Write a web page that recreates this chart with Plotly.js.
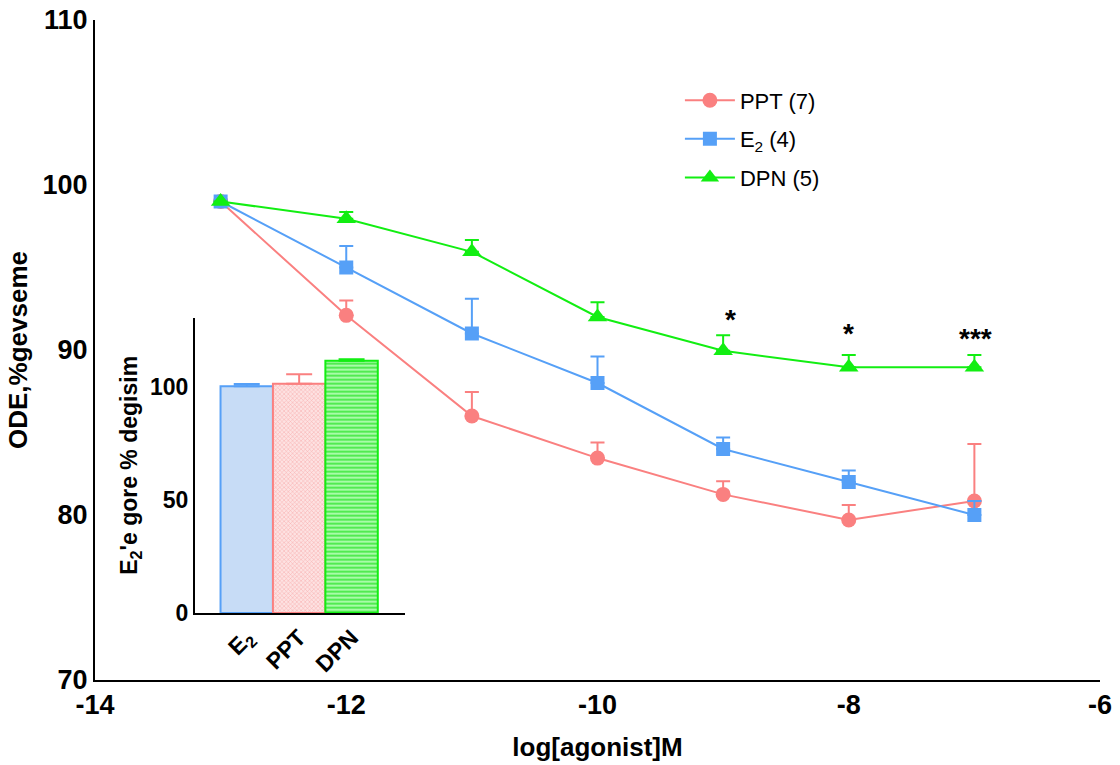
<!DOCTYPE html>
<html>
<head>
<meta charset="utf-8">
<script src="https://cdn.plot.ly/plotly-3.0.1.min.js"></script>
<style>html,body{margin:0;padding:0;background:#fff;}#chart{width:1120px;height:765px;}</style>
</head>
<body>
<div id="chart"></div>
<script>
// ---- main chart data ----
const logConc = [-13, -12, -11, -10, -9, -8, -7];
const pptMean = [99.0, 92.1, 86.0, 83.45, 81.25, 79.7, 80.85];
const pptSem  = [0, 0.9, 1.45, 0.95, 0.8, 0.9, 3.45];
const e2Mean  = [99.0, 95.0, 91.0, 88.0, 84.0, 82.0, 80.0];
const e2Sem   = [0, 1.3, 2.1, 1.6, 0.7, 0.7, 0.85];
const dpnMean = [99.0, 97.95, 95.95, 92.0, 89.95, 88.95, 88.95];
const dpnSem  = [0, 0.42, 0.72, 0.9, 0.95, 0.75, 0.75];
const seriesNames = ['PPT (7)', 'E<sub>2</sub> (4)', 'DPN (5)'];

// significance marks
const sigX = [-8.945, -8.0, -6.99];
const sigY = [91.85, 91.0, 90.7];
const sigText = ['*', '*', '***'];

// ---- inset data ----
const insetCats = ['E<sub>2</sub>', 'PPT', 'DPN'];
const insetVals = [100.3, 101.5, 111.6];
const insetSem  = [1.0, 4.2, 0.7];

// ---- axis ticks ----
const xTicks = [-14, -12, -10, -8, -6];
const xTickText = ['-14', '-12', '-10', '-8', '-6'];
const yTicks = [70, 80, 90, 100, 110];
const insetYTicks = [0, 50, 100];

const FONT = 'Liberation Sans, Arial, Helvetica, sans-serif';
const C_PPT = '#fa8080', C_E2 = '#56a0f7', C_DPN = '#12ee12';

function lineTrace(y, err, name, color, symbol, size) {
  return {
    x: logConc, y: y, name: name, type: 'scatter', mode: 'lines+markers',
    xaxis: 'x', yaxis: 'y',
    line: {color: color, width: 2},
    marker: {color: color, symbol: symbol, size: size},
    error_y: {type: 'data', symmetric: false, array: err, arrayminus: err.map(() => 0),
              color: color, thickness: 2, width: 7},
    legendgroup: name
  };
}

const traces = [
  lineTrace(pptMean, pptSem, seriesNames[0], C_PPT, 'circle', 15),
  lineTrace(e2Mean, e2Sem, seriesNames[1], C_E2, 'square', 14),
  lineTrace(dpnMean, dpnSem, seriesNames[2], C_DPN, 'triangle-up', 17)
];

const barStyles = [
  {fill: '#c7dcf6', line: C_E2, pattern: null},
  {fill: '#fbd0d0', line: C_PPT, pattern: {shape: 'x', fgcolor: '#f8aaaa', bgcolor: '#fde2e2', size: 3, solidity: 0.3}},
  {fill: '#8ef58e', line: C_DPN, pattern: {shape: '-', fgcolor: '#3ae83a', bgcolor: '#a8fba8', size: 4, solidity: 0.4}}
];
insetVals.forEach((v, i) => {
  const m = {color: barStyles[i].fill, line: {color: barStyles[i].line, width: 2}};
  if (barStyles[i].pattern) m.pattern = barStyles[i].pattern;
  traces.push({
    type: 'bar', x: [i], y: [v], width: 1, xaxis: 'x2', yaxis: 'y2', showlegend: false,
    marker: m,
    error_y: {type: 'data', symmetric: false, array: [insetSem[i]], arrayminus: [0],
              color: barStyles[i].line, thickness: 2, width: 13}
  });
});

const annotations = sigX.map((x, i) => ({
  x: x, y: sigY[i], xref: 'x', yref: 'y', text: sigText[i], showarrow: false,
  font: {family: FONT, size: 28, color: '#000', weight: 'bold'}
}));

const layout = {
  width: 1120, height: 765,
  margin: {l: 95, r: 20, t: 20, b: 85},
  paper_bgcolor: '#fff', plot_bgcolor: 'rgba(0,0,0,0)',
  font: {family: FONT, color: '#000'},
  barmode: 'overlay',
  showlegend: true,
  legend: {
    x: 0.582, y: 0.91, xanchor: 'left', yanchor: 'top',
    font: {family: FONT, size: 22, color: '#000'},
    bgcolor: 'rgba(0,0,0,0)', traceorder: 'grouped', tracegroupgap: 7,
    itemwidth: 50
  },
  xaxis: {
    domain: [0, 1], range: [-14, -6], tickvals: xTicks, ticktext: xTickText, ticks: '',
    showgrid: false, zeroline: false,
    showline: true, linecolor: '#000', linewidth: 2,
    tickfont: {family: FONT, size: 27, weight: 'bold'},
    title: {text: 'log[agonist]M', font: {family: FONT, size: 26, weight: 'bold'}, standoff: 18}
  },
  yaxis: {
    domain: [0, 1], range: [70, 110], tickvals: yTicks, ticks: '', showgrid: false, zeroline: false,
    showline: true, linecolor: '#000', linewidth: 2,
    tickfont: {family: FONT, size: 27, weight: 'bold'},
    title: {text: 'ODE,%gevseme', font: {family: FONT, size: 26, weight: 'bold'}, standoff: 7}
  },
  xaxis2: {
    domain: [0.0995, 0.3085], range: [-0.987, 3.02], anchor: 'y2',
    tickvals: [0, 1, 2], ticktext: insetCats, tickangle: -45, ticks: '',
    showgrid: false, zeroline: false, showline: true, linecolor: '#000', linewidth: 2,
    tickfont: {family: FONT, size: 23, weight: 'bold'}
  },
  yaxis2: {
    domain: [0.1015, 0.549], range: [0, 130.7], anchor: 'x2',
    tickvals: insetYTicks, ticks: '', showgrid: false, zeroline: false,
    showline: true, linecolor: '#000', linewidth: 2,
    tickfont: {family: FONT, size: 23, weight: 'bold'},
    title: {text: "E<sub>2</sub>'e gore % degisim", font: {family: FONT, size: 23, weight: 'bold'}, standoff: 6}
  },
  annotations: annotations
};

Plotly.newPlot('chart', traces, layout, {displayModeBar: false, staticPlot: true});
</script>
</body>
</html>
